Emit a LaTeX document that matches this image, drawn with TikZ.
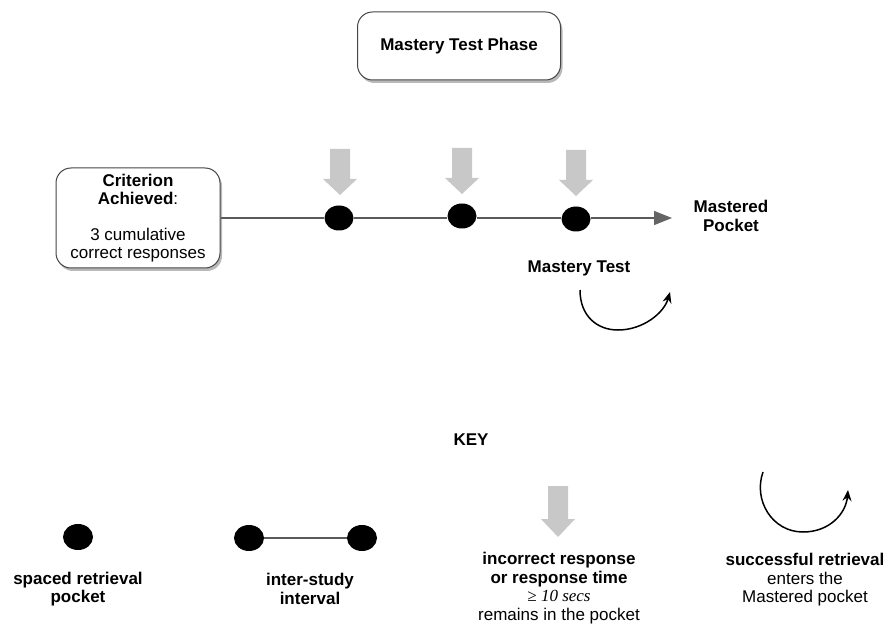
\documentclass[tikz,border=0pt]{standalone}
\usepackage{fontspec}
\setmainfont{Liberation Sans}
\newfontfamily\timesit{Liberation Serif}
\usetikzlibrary{arrows.meta,shadows,shapes.geometric}

\definecolor{boxline}{RGB}{70,70,70}
\definecolor{linegray}{RGB}{90,90,90}
\definecolor{tipgray}{RGB}{100,100,100}
\definecolor{bigarrow}{RGB}{200,200,200}

\tikzset{
  txt/.style={font=\fontsize{17}{18.5}\selectfont, align=center, inner sep=0pt},
  btxt/.style={txt, font=\fontsize{17}{18.5}\selectfont\bfseries},
  phasebox/.style={draw=boxline, line width=1pt, fill=white, rounded corners=15pt,
    drop shadow={shadow xshift=2pt, shadow yshift=-3pt, opacity=0.55, fill=gray}},
  pocket/.style={ellipse, fill=black, inner sep=0pt, minimum width=29pt, minimum height=25pt},
  timeline/.style={draw=linegray, line width=1.1pt},
  curved/.style={draw=black, line width=1.5pt, -{Stealth[length=11pt,width=9pt]}},
  pics/downarrow/.style n args={2}{code={
    \fill[bigarrow] (-10,0) -- (10,0) -- (10,#1) -- (17,#1) -- (0,#1+#2)
      -- (-17,#1) -- (-10,#1) -- cycle;
  }},
}

\begin{document}
\begin{tikzpicture}[x=1pt,y=-1pt]
  \useasboundingbox[fill=white] (0,0) rectangle (891,628);

  % phase title
  \node[phasebox, btxt, minimum width=203pt, minimum height=68pt] (phase) at (459,46) {Mastery Test Phase};

  % starting criterion
  \node[phasebox, txt, minimum width=164pt, minimum height=100pt] (crit) at (138,218)
    {\textbf{Criterion}\\\textbf{Achieved}:\\[17pt]3 cumulative\\correct responses};

  % retrieval pockets on the timeline
  \coordinate (tip) at (672,218);
  \node[pocket] (d1) at (339,218) {};
  \node[pocket] (d2) at (462,216) {};
  \node[pocket] (d3) at (576,219) {};
  \draw[timeline] (crit.east) -- (d1.west);
  \draw[timeline] (d1.east) -- (d2.west |- d1.east);
  \draw[timeline] (d2.east |- d1.east) -- (d3.west |- d1.east);
  \draw[timeline, -{Triangle[length=18pt,width=14pt,fill=tipgray,color=tipgray]}] (d3.east |- d1.east) -- (tip);

  % incorrect-response arrows above each pocket
  \pic (a1) at (340,149) {downarrow={30}{16}};
  \pic (a2) at (462,148) {downarrow={30}{16}};
  \pic (a3) at (576,150) {downarrow={30}{16}};

  \node[btxt] (mastered) at (731,216) {Mastered\\Pocket};
  \node[btxt] (mtest) at (579,268) {Mastery Test};

  % successful retrieval
  \coordinate (c1s) at (580,290);
  \coordinate (c1b) at (618,330);
  \coordinate (c1e) at (670,292);
  \draw[curved] (c1s) .. controls (580,316) and (597,330) .. (c1b)
    .. controls (643,330) and (664,313) .. (c1e);

  % key
  \node[btxt] (key) at (471,440) {KEY};

  \node[pocket, minimum width=30pt, minimum height=26pt] (kdot) at (78,537) {};
  \node[btxt] (kdotlbl) at (78,589) {spaced retrieval\\pocket};

  \node[pocket, minimum width=30pt, minimum height=26pt] (ka) at (249,538) {};
  \node[pocket, minimum width=30pt, minimum height=26pt] (kb) at (362,538) {};
  \draw[timeline] (ka) -- (kb);
  \node[btxt] (kintlbl) at (310,589) {inter-study\\interval};

  \pic (karrow) at (558,486) {downarrow={33}{18}};
  \node[txt] (karrowlbl) at (559,588)
    {\textbf{incorrect response}\\\textbf{or response time}\\{\timesit\itshape ≥ 10 secs}\\remains in the pocket};

  \coordinate (k2s) at (763,472);
  \coordinate (k2b) at (803,532);
  \coordinate (k2e) at (848,490);
  \draw[curved] (k2s) .. controls (753,500) and (772,532) .. (k2b)
    .. controls (830,532) and (846,513) .. (k2e);
  \node[txt] (karclbl) at (805,580)
    {\textbf{successful retrieval}\\enters the\\Mastered pocket};
\end{tikzpicture}
\end{document}
